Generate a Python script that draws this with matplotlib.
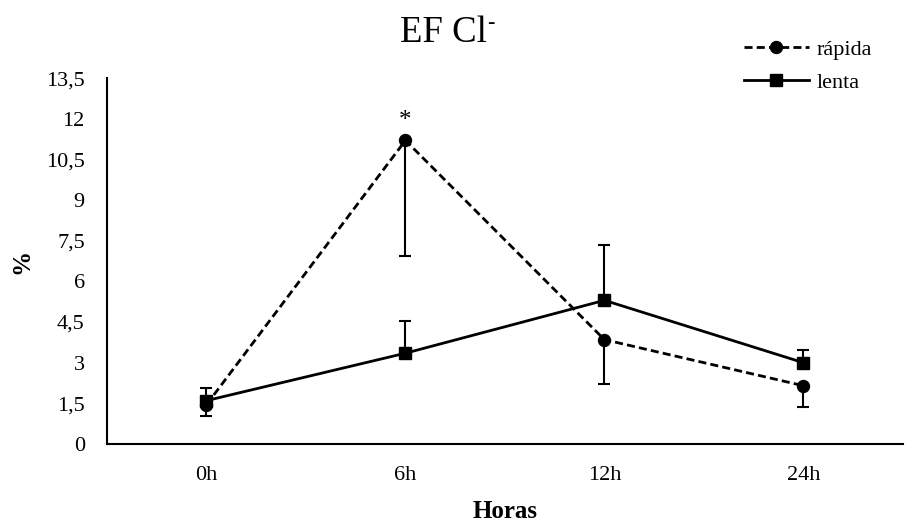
import matplotlib.pyplot as plt
from matplotlib.ticker import FuncFormatter

plt.rcParams['font.family'] = ['Liberation Serif', 'DejaVu Serif']

horas = ['0h', '6h', '12h', '24h']
rapida = [1.45, 11.2, 3.85, 2.15]
rapida_err = [0.42, 4.25, 1.65, 0.78]   # solo hacia abajo
lenta = [1.6, 3.35, 5.3, 3.0]
lenta_err = [0.45, 1.2, 2.05, 0.48]     # solo hacia arriba

fig = plt.figure(figsize=(9.12, 5.25), dpi=100)
ax = fig.add_axes([0.1173, 0.1543, 0.8727, 0.697])

x = list(range(len(horas)))

r = ax.errorbar(x, rapida, yerr=[rapida_err, [0] * len(x)], color='black', lw=2,
                ls=(0, (2.9, 1.5)), marker='o', ms=8.6, elinewidth=1.5,
                capsize=4.5, capthick=1.5, zorder=3)
l = ax.errorbar(x, lenta, yerr=[[0] * len(x), lenta_err], color='black', lw=2,
                ls='-', marker='s', ms=8, elinewidth=1.5,
                capsize=4.5, capthick=1.5, zorder=3)

ax.annotate('*', (1, rapida[1]), xytext=(0, 6), textcoords='offset points',
            ha='center', va='bottom', fontsize=18)

ax.set_xlim(-0.5, 3.5)
ax.set_ylim(0, 13.5)
ax.set_yticks([0, 1.5, 3, 4.5, 6, 7.5, 9, 10.5, 12, 13.5])
ax.yaxis.set_major_formatter(FuncFormatter(lambda v, p: ('%g' % v).replace('.', ',')))
ax.set_xticks(x)
ax.set_xticklabels(horas)
ax.tick_params(length=0, labelsize=16)
ax.tick_params(axis='x', pad=16)
ax.tick_params(axis='y', pad=16)

for s in ['top', 'right']:
    ax.spines[s].set_visible(False)
for s in ['left', 'bottom']:
    ax.spines[s].set_linewidth(1.5)

ax.set_xlabel('Horas', fontsize=18, fontweight='bold', labelpad=11)
ax.set_ylabel('%', fontsize=18, fontweight='bold', labelpad=9)

t = fig.text(0.486, 1 - 42 / 525, 'EF Cl', ha='center', va='baseline', fontsize=26.5)
fig.canvas.draw()
bb = t.get_window_extent()
fig.text(bb.x1 / fig.bbox.width + 0.001, 1 - 28 / 525, '-', ha='left',
         va='baseline', fontsize=16)

fig.legend([r[0], l[0]], ['rápida', 'lenta'], loc='upper left',
           bbox_to_anchor=(0.794, 0.963), frameon=False,
           fontsize=16, handlelength=2.9, labelspacing=0.55, handletextpad=0.35)

fig.savefig('out.png')
